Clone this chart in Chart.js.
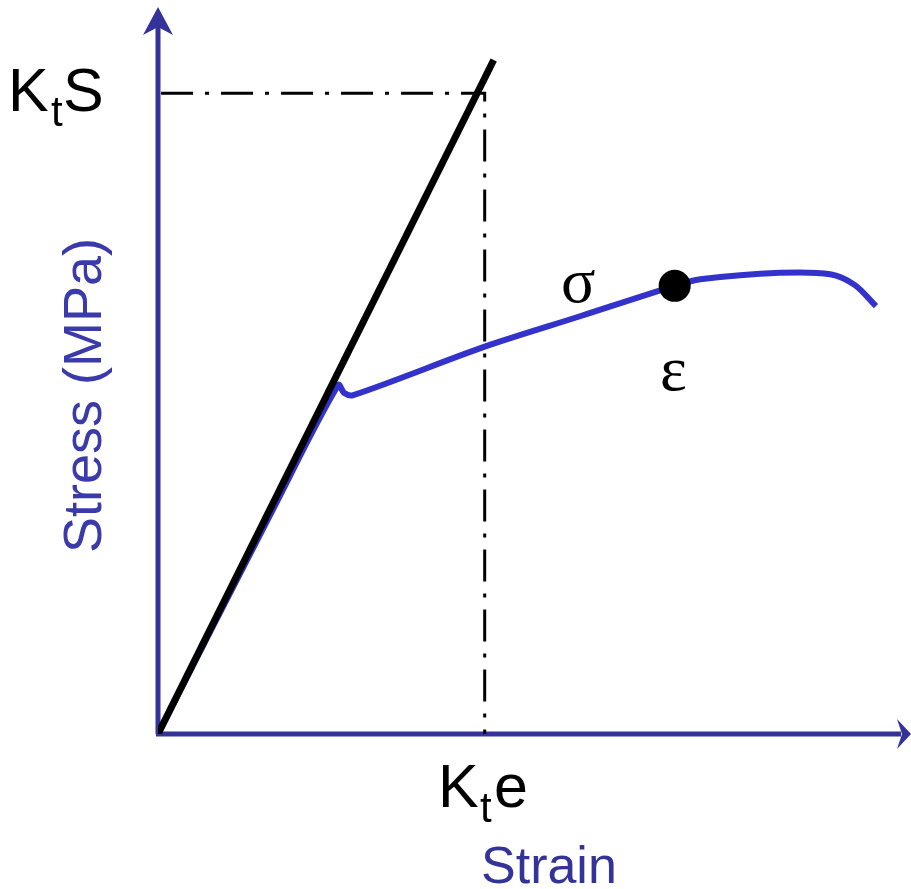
<!DOCTYPE html>
<html>
<head>
<meta charset="utf-8">
<script src="https://cdn.jsdelivr.net/npm/chart.js@4.4.1/dist/chart.umd.min.js"></script>
<style>
  html, body { margin: 0; padding: 0; background: #fff; }
  #wrap { width: 911px; height: 889px; }
</style>
</head>
<body>
<div id="wrap"><canvas id="stressStrain"></canvas></div>
<script>
// valores (unidades arbitrárias 0-100)
const elasticX = [0, 44.7];
const elasticY = [0, 93.1];

const curveX = [0, 15.3, 24.0, 24.8, 26.0, 43.5, 56.2, 68.8, 72.2, 82.8, 89.5, 92.8, 95.6];
const curveY = [0, 31.0, 48.2, 47.1, 46.8, 53.5, 57.7, 61.9, 62.8, 63.7, 63.5, 62.0, 59.1];

const markX = [68.8];
const markY = [61.9];

const ktS = 88.5;   // nível K_t S
const ktE = 43.5;   // deformação K_t e

const axisBlue = '#333399';
const curveBlue = '#3333cc';

const pts = (xs, ys) => xs.map((x, i) => ({ x: x, y: ys[i] }));

// eixos com setas + textos
const decor = {
  id: 'decor',
  beforeDatasetsDraw(chart) {
    const { ctx, scales: { x, y } } = chart;
    const x0 = x.getPixelForValue(0), y0 = y.getPixelForValue(0);
    const xEnd = x.getPixelForValue(100), yEnd = y.getPixelForValue(100);
    ctx.save();
    ctx.strokeStyle = axisBlue;
    ctx.fillStyle = axisBlue;
    ctx.lineWidth = 5;
    ctx.beginPath();
    ctx.moveTo(x0, y0);
    ctx.lineTo(x0, yEnd + 12);
    ctx.moveTo(x0 - 2, y0);
    ctx.lineTo(xEnd - 8, y0);
    ctx.stroke();
    // seta vertical
    ctx.beginPath();
    ctx.moveTo(x0, yEnd - 3);
    ctx.lineTo(x0 + 15, yEnd + 25);
    ctx.lineTo(x0, yEnd + 17);
    ctx.lineTo(x0 - 15, yEnd + 25);
    ctx.closePath();
    ctx.fill();
    // seta horizontal
    ctx.beginPath();
    ctx.moveTo(xEnd + 2, y0);
    ctx.lineTo(xEnd - 12, y0 + 15);
    ctx.lineTo(xEnd - 7, y0);
    ctx.lineTo(xEnd - 12, y0 - 15);
    ctx.closePath();
    ctx.fill();
    ctx.restore();
  },
  afterDraw(chart) {
    const { ctx } = chart;
    ctx.save();
    ctx.fillStyle = '#000';
    ctx.textBaseline = 'alphabetic';
    ctx.font = '61px "Liberation Sans", Arial, sans-serif';
    ctx.fillText('K', 8, 111);
    ctx.fillText('S', 63, 111);
    ctx.fillText('K', 438, 807);
    ctx.fillText('e', 494, 807);
    ctx.font = '42px "Liberation Sans", Arial, sans-serif';
    ctx.fillText('t', 51, 126);
    ctx.fillText('t', 480, 822);

    ctx.font = '64px "Liberation Serif", "Times New Roman", serif';
    ctx.fillText('σ', 561, 302);
    ctx.fillText('ε', 660, 390);

    ctx.fillStyle = axisBlue;
    ctx.font = '52px "Liberation Sans", Arial, sans-serif';
    ctx.fillText('Strain', 481, 883);

    ctx.fillStyle = '#3a3aaa';
    ctx.font = '54px "Liberation Sans", Arial, sans-serif';
    ctx.translate(101, 553);
    ctx.rotate(-Math.PI / 2);
    ctx.fillText('Stress (MPa)', 0, 0);
    ctx.restore();
  }
};

new Chart(document.getElementById('stressStrain'), {
  type: 'scatter',
  data: {
    datasets: [
      {
        // linhas traço-ponto
        data: [{ x: 0.4, y: ktS }, { x: ktE, y: ktS }, { x: ktE, y: 0 }],
        showLine: true,
        borderColor: '#000',
        borderWidth: 3,
        borderDash: [32, 12, 4, 12],
        pointRadius: 0,
        order: 4
      },
      {
        data: pts(curveX, curveY),
        showLine: true,
        borderColor: curveBlue,
        borderWidth: 6,
        tension: 0.3,
        borderCapStyle: 'butt',
        pointRadius: 0,
        order: 3
      },
      {
        data: pts(elasticX, elasticY),
        showLine: true,
        borderColor: '#000',
        borderWidth: 7,
        pointRadius: 0,
        order: 2
      },
      {
        data: pts(markX, markY),
        backgroundColor: '#000',
        borderWidth: 0,
        pointRadius: 16,
        order: 1
      }
    ]
  },
  options: {
    responsive: true,
    maintainAspectRatio: false,
    animation: false,
    layout: { autoPadding: false, padding: { left: 158, right: 2, top: 10, bottom: 155 } },
    plugins: { legend: { display: false }, tooltip: { enabled: false } },
    scales: {
      x: { type: 'linear', min: 0, max: 100, display: false },
      y: { type: 'linear', min: 0, max: 100, display: false }
    }
  },
  plugins: [decor]
});
</script>
</body>
</html>
